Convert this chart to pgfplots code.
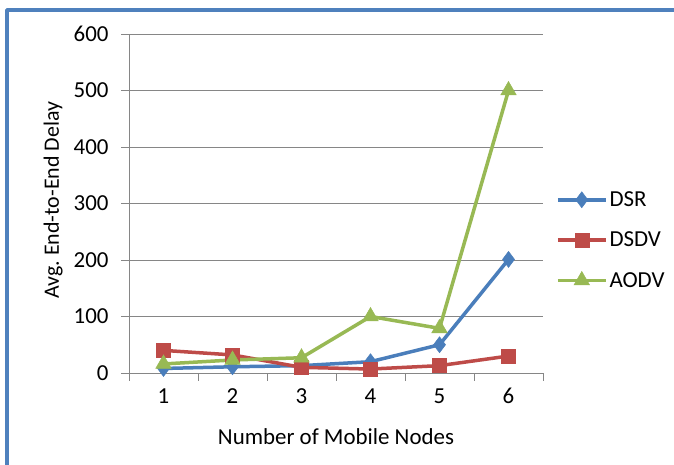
\documentclass[border=0pt]{standalone}
\usepackage{fontspec}
\setmainfont{Carlito}
\usepackage{pgfplots}
\pgfplotsset{compat=1.18}

\definecolor{frame}{RGB}{79,129,189}
\definecolor{dsr}{RGB}{74,126,187}
\definecolor{dsdv}{RGB}{190,75,72}
\definecolor{aodv}{RGB}{152,185,84}
\definecolor{axgray}{RGB}{134,134,134}

\begin{document}
\begin{tikzpicture}[x=1bp,y=1bp]
\useasboundingbox (0,0) rectangle (674,465);
\fill[white] (0,0) rectangle (674,465);
\draw[line width=3.5bp, color=frame, line join=round] (7,0) -- (7,455) -- (674,455);

\begin{axis}[
  at={(129bp,92bp)}, anchor=south west,
  scale only axis, width=414bp, height=339bp,
  xmin=0.5, xmax=6.5, ymin=0, ymax=600,
  axis lines*=left,
  axis line style={axgray, line width=0.8bp},
  xtick={1,2,3,4,5,6},
  minor xtick={0.5,1.5,2.5,3.5,4.5,5.5,6.5},
  major x tick style={draw=none},
  minor x tick style={axgray, line width=0.8bp},
  ytick={0,100,200,300,400,500,600},
  y tick style={axgray, line width=0.8bp},
  tick align=outside,
  major tick length=8bp, minor tick length=8bp,
  ymajorgrids,
  grid style={axgray, line width=0.8bp},
  /pgf/number format/assume math mode=true,
  tick label style={font=\fontsize{23}{27}\selectfont},
  xticklabel style={yshift=-4bp},
  yticklabel style={xshift=-9bp},
  xlabel={Number of Mobile Nodes},
  ylabel={Avg.\ End-to-End Delay},
  every axis x label/.style={at={(axis description cs:0.5,-0.189)}, anchor=center,
    font=\fontsize{23}{27}\selectfont},
  every axis y label/.style={at={(axis description cs:-0.183,0.51)}, rotate=90, anchor=center,
    font=\fontsize{22}{26}\selectfont},
  legend style={at={(axis description cs:1.031,0.392)}, anchor=west, draw=none, fill=none,
    font=\fontsize{23}{27}\selectfont, row sep=20bp, inner sep=0pt},
  legend cell align=left,
  legend image code/.code={\draw[mark repeat=2, mark phase=2] plot coordinates {(0bp,0bp) (24bp,0bp) (48bp,0bp)};},
  clip=false,
]
\addplot[dsr, line width=3.5bp, mark=diamond*, mark size=8bp, mark options={solid, fill=dsr, line width=0.5bp}]
  coordinates {(1,8) (2,11) (3,13) (4,20) (5,50) (6,201)};
\addlegendentry{DSR}
\addplot[dsdv, line width=3.5bp, mark=square*, mark size=7bp, mark options={solid, fill=dsdv, line width=0.5bp}]
  coordinates {(1,40) (2,32) (3,10) (4,7) (5,13) (6,30)};
\addlegendentry{DSDV}
\addplot[aodv, line width=3.5bp, mark=triangle*, mark size=9bp, mark options={solid, fill=aodv, line width=0.5bp}]
  coordinates {(1,16) (2,23) (3,27) (4,100) (5,79) (6,500)};
\addlegendentry{AODV}
\end{axis}
\end{tikzpicture}
\end{document}
